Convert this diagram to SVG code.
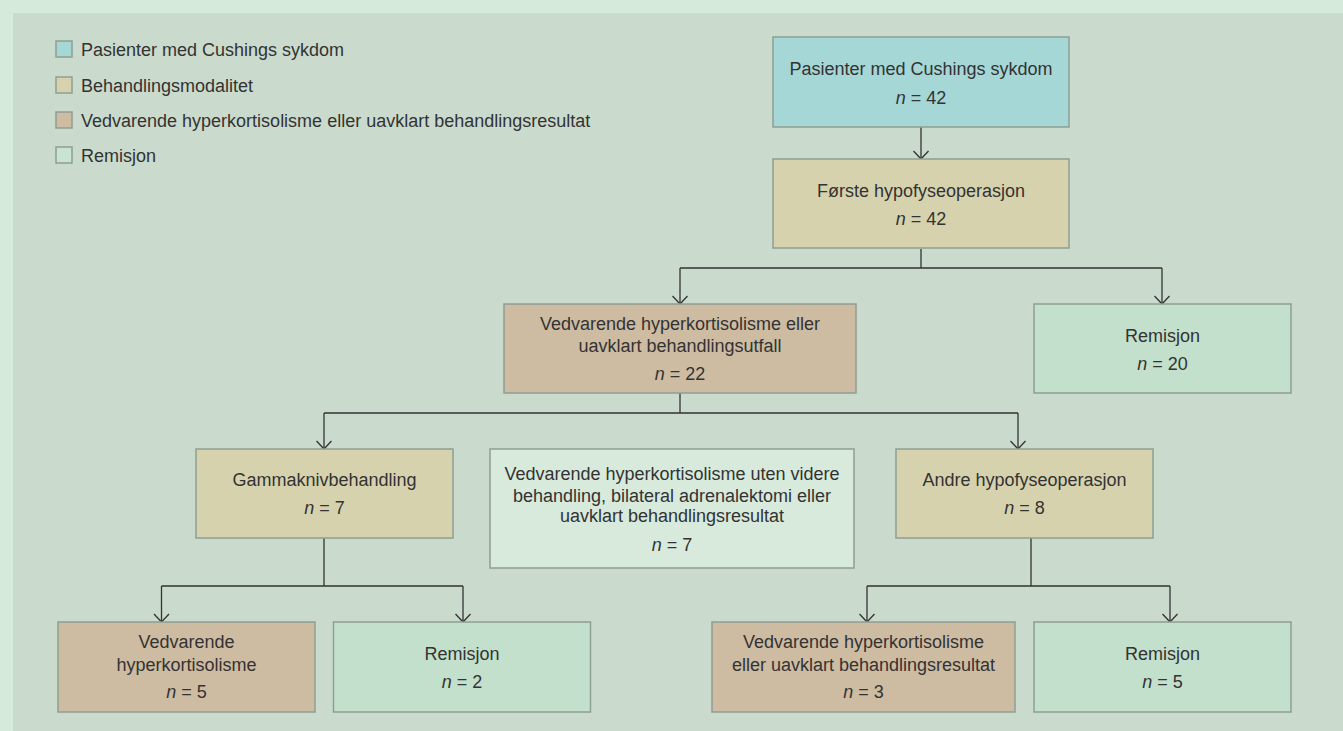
<svg xmlns="http://www.w3.org/2000/svg" width="1343" height="731" viewBox="0 0 1343 731">
<defs>
<style>
text{font-family:"Liberation Sans",Arial,sans-serif;font-size:18px;fill:#333;}
.c{text-anchor:middle;}
.i{font-style:italic;}
.box{stroke:#8e9f93;stroke-width:1.5;}
.blue{fill:#a5d7d6;}
.beige{fill:#d6d2ae;}
.brown{fill:#cdbba2;}
.green{fill:#c2e0cb;}
.light{fill:#d7eadc;}
.lg{fill:#cae4d2;}
.ln{fill:none;stroke:#333;stroke-width:1.3;}
</style>
<marker id="arr" viewBox="-10 -10 20 20" refX="0" refY="0" markerWidth="20" markerHeight="20" markerUnits="userSpaceOnUse" orient="auto" overflow="visible">
<path d="M-8,-7.5 L0,0 L-8,7.5" fill="none" stroke="#333" stroke-width="1.3"/>
</marker>
</defs>
<rect x="0" y="0" width="1343" height="731" fill="#d6eadc"/>
<rect x="13" y="13" width="1330" height="718" fill="#cadbcd"/>

<g id="legend">
<rect class="box blue" x="56" y="41" width="16" height="16"/>
<text x="81" y="56">Pasienter med Cushings sykdom</text>
<rect class="box beige" x="56" y="77" width="16" height="16"/>
<text x="81" y="92">Behandlingsmodalitet</text>
<rect class="box brown" x="56" y="112" width="16" height="16"/>
<text x="81" y="127">Vedvarende hyperkortisolisme eller uavklart behandlingsresultat</text>
<rect class="box lg" x="56" y="147" width="16" height="16"/>
<text x="81" y="162">Remisjon</text>
</g>

<g id="connectors">
<path class="ln" d="M921,127 V159" marker-end="url(#arr)"/>
<path class="ln" d="M921,249 V268 M680,268 H1162"/>
<path class="ln" d="M680,268 V304" marker-end="url(#arr)"/>
<path class="ln" d="M1162,268 V304" marker-end="url(#arr)"/>
<path class="ln" d="M680,393 V413 M324,413 H1018"/>
<path class="ln" d="M324,413 V449" marker-end="url(#arr)"/>
<path class="ln" d="M1018,413 V449" marker-end="url(#arr)"/>
<path class="ln" d="M324,538 V586 M161.5,586 H463"/>
<path class="ln" d="M161.5,586 V622" marker-end="url(#arr)"/>
<path class="ln" d="M463,586 V622" marker-end="url(#arr)"/>
<path class="ln" d="M1031,538 V586 M867,586 H1170"/>
<path class="ln" d="M867,586 V622" marker-end="url(#arr)"/>
<path class="ln" d="M1170,586 V622" marker-end="url(#arr)"/>
</g>

<g id="n1">
<rect class="box blue" x="773" y="37" width="296" height="90"/>
<text class="c" x="921" y="75">Pasienter med Cushings sykdom</text>
<text class="c" x="921" y="104"><tspan class="i">n</tspan> = 42</text>
</g>
<g id="n2">
<rect class="box beige" x="773" y="159" width="296" height="89"/>
<text class="c" x="921" y="197">Første hypofyseoperasjon</text>
<text class="c" x="921" y="225"><tspan class="i">n</tspan> = 42</text>
</g>
<g id="n3">
<rect class="box brown" x="504" y="304" width="352" height="89"/>
<text class="c" x="680" y="330">Vedvarende hyperkortisolisme eller</text>
<text class="c" x="680" y="352">uavklart behandlingsutfall</text>
<text class="c" x="680" y="380"><tspan class="i">n</tspan> = 22</text>
</g>
<g id="n4">
<rect class="box green" x="1034" y="304" width="257" height="89"/>
<text class="c" x="1162.5" y="342">Remisjon</text>
<text class="c" x="1162.5" y="370"><tspan class="i">n</tspan> = 20</text>
</g>
<g id="n5">
<rect class="box beige" x="196" y="449" width="257" height="89"/>
<text class="c" x="324.5" y="486">Gammaknivbehandling</text>
<text class="c" x="324.5" y="514"><tspan class="i">n</tspan> = 7</text>
</g>
<g id="n6">
<rect class="box light" x="490" y="449" width="364" height="119"/>
<text class="c" x="672" y="480">Vedvarende hyperkortisolisme uten videre</text>
<text class="c" x="672" y="502">behandling, bilateral adrenalektomi eller</text>
<text class="c" x="672" y="522">uavklart behandlingsresultat</text>
<text class="c" x="672" y="551"><tspan class="i">n</tspan> = 7</text>
</g>
<g id="n7">
<rect class="box beige" x="896" y="449" width="257" height="89"/>
<text class="c" x="1024.5" y="486">Andre hypofyseoperasjon</text>
<text class="c" x="1024.5" y="514"><tspan class="i">n</tspan> = 8</text>
</g>
<g id="n8">
<rect class="box brown" x="58" y="622" width="257" height="90"/>
<text class="c" x="186.5" y="648">Vedvarende</text>
<text class="c" x="186.5" y="671">hyperkortisolisme</text>
<text class="c" x="186.5" y="698"><tspan class="i">n</tspan> = 5</text>
</g>
<g id="n9">
<rect class="box green" x="333.5" y="622" width="257" height="90"/>
<text class="c" x="462" y="660">Remisjon</text>
<text class="c" x="462" y="688"><tspan class="i">n</tspan> = 2</text>
</g>
<g id="n10">
<rect class="box brown" x="712" y="622" width="303" height="90"/>
<text class="c" x="863.5" y="648">Vedvarende hyperkortisolisme</text>
<text class="c" x="863.5" y="671">eller uavklart behandlingsresultat</text>
<text class="c" x="863.5" y="698"><tspan class="i">n</tspan> = 3</text>
</g>
<g id="n11">
<rect class="box green" x="1034" y="622" width="257" height="90"/>
<text class="c" x="1162.5" y="660">Remisjon</text>
<text class="c" x="1162.5" y="688"><tspan class="i">n</tspan> = 5</text>
</g>
</svg>
